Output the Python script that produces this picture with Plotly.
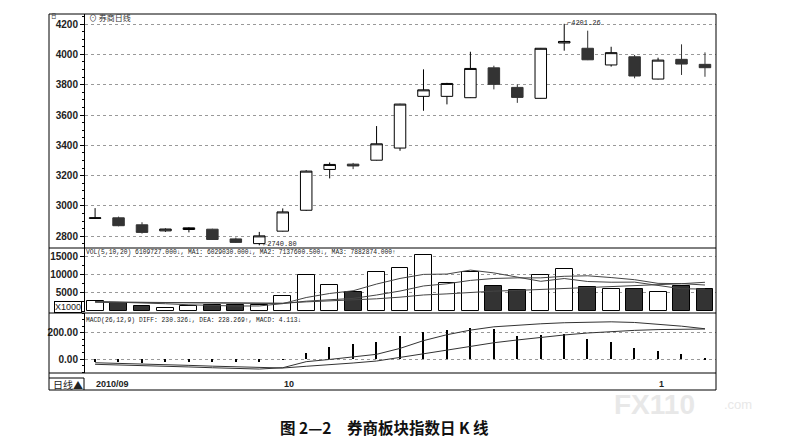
import plotly.graph_objects as go

W, H = 789, 448

# daily candles of the broker sector index, 2010/09 - 2010/11
opens  = [2918, 2922, 2876, 2836, 2845, 2847, 2783, 2752, 2834, 2972, 3241, 3276, 3302, 3382,
          3723, 3723, 3714, 3911, 3782, 3710, 4075, 4040, 3930, 3984, 3837, 3967, 3934]
highs  = [2986, 2930, 2893, 2852, 2860, 2850, 2792, 2829, 2984, 3236, 3287, 3284, 3527, 3674,
          3901, 3812, 4017, 3925, 3802, 4042, 4201.26, 4156, 4050, 3996, 3978, 4066, 4013]
lows   = [2915, 2866, 2818, 2830, 2826, 2776, 2756, 2740.8, 2832, 2968, 3182, 3243, 3300, 3364,
          3628, 3670, 3712, 3769, 3680, 3708, 4024, 3962, 3919, 3842, 3835, 3864, 3852]
closes = [2922, 2870, 2826, 2848, 2856, 2779, 2760, 2803, 2961, 3230, 3274, 3264, 3410, 3672,
          3766, 3808, 3907, 3802, 3716, 4040, 4085, 3964, 4011, 3857, 3962, 3936, 3912]

# volume (x1000) and its moving averages
volume   = [2700, 2100, 1450, 900, 1370, 1550, 1550, 1550, 4100, 9750, 7100, 5300, 10750, 11800,
            15300, 7570, 10740, 6900, 5800, 9750, 11400, 6640, 5930, 5930, 5200, 6830, 6110]
vol_ma5  = [2600, 2450, 2250, 2000, 1704, 1474, 1364, 1384, 2024, 3700, 4810, 5560, 7400, 8940,
            10050, 10144, 11232, 10462, 9262, 8152, 8918, 8098, 7904, 7930, 7020, 6106, 6029]
vol_ma10 = [2500, 2450, 2400, 2300, 2250, 2150, 2100, 2050, 2050, 2702, 3142, 3462, 4392, 5482,
            6875, 7477, 8396, 8931, 9101, 9101, 9531, 9665, 9183, 8596, 7586, 7509, 7138]
vol_ma20 = [2400, 2350, 2300, 2250, 2200, 2150, 2100, 2080, 2150, 2500, 2750, 2950, 3350, 3800,
            4400, 4700, 5150, 5450, 5650, 5902, 6337, 6564, 6788, 7039, 7231, 7495, 7883]

# MACD(26,12,9)
diff = [-40, -44, -50, -55, -60, -66, -72, -76, -66, -20, -3, 18, 36, 81,
        140, 185, 220, 245, 258, 268, 276, 282, 283, 278, 265, 250, 230.3]
dea  = [-28, -32, -38, -43, -48, -54, -60, -66, -68, -55, -45, -30, -15, 10,
        40, 68, 98, 124, 145, 165, 183, 198, 210, 218, 224, 228, 228.3]
macd = [-22, -25, -28, -25, -22, -25, -25, -20, -4, 48, 89, 112, 131, 175,
        208, 220, 233, 225, 175, 182, 190, 150, 127, 81, 61, 38, 4.1]

price_ticks = [2800, 3000, 3200, 3400, 3600, 3800, 4000, 4200]
vol_ticks = [5000, 10000, 15000]
vol_ticktext = ['5000', '10000', '15000']
macd_ticks = [0, 200]
macd_ticktext = ['0.00', '200.00']
date_labels = ['2010/09', '10', '1']
date_pos = [0, 8, 24]

idx = list(range(len(opens)))
vol_colors = ['white' if c >= o else '#333333' for o, c in zip(opens, closes)]


def px(x):
    return x / W


def py(y):
    return 1 - y / H


fig = go.Figure()

fig.add_trace(go.Candlestick(
    x=idx, open=opens, high=highs, low=lows, close=closes,
    increasing=dict(line=dict(color='black', width=1), fillcolor='white'),
    decreasing=dict(line=dict(color='#333333', width=1), fillcolor='#333333'),
    whiskerwidth=0, yaxis='y', showlegend=False))

fig.add_trace(go.Bar(x=idx, y=volume, width=0.72, yaxis='y2',
                     marker=dict(color=vol_colors, line=dict(color='black', width=1)),
                     showlegend=False))
for ma in [vol_ma5, vol_ma10, vol_ma20]:
    fig.add_trace(go.Scatter(x=idx, y=ma, mode='lines', yaxis='y2',
                             line=dict(color='#444444', width=1), showlegend=False))

fig.add_trace(go.Bar(x=idx, y=macd, width=0.06, yaxis='y3',
                     marker=dict(color='black', line=dict(width=0)), showlegend=False))
fig.add_trace(go.Scatter(x=idx, y=diff, mode='lines', yaxis='y3',
                         line=dict(color='#333333', width=1), showlegend=False))
fig.add_trace(go.Scatter(x=idx, y=dea, mode='lines', yaxis='y3',
                         line=dict(color='#333333', width=1), showlegend=False))

tick_font = dict(family='Liberation Sans', size=10, color='#222222', weight='bold')
common_y = dict(showline=True, linecolor='black', linewidth=1, ticks='outside', ticklen=4,
                tickcolor='black', gridcolor='#999999', griddash='dot', gridwidth=1,
                zeroline=False, tickfont=tick_font, anchor='x', fixedrange=True)

fig.update_layout(
    width=W, height=H,
    margin=dict(l=0, r=0, t=0, b=0),
    paper_bgcolor='white', plot_bgcolor='white',
    bargap=0,
    xaxis=dict(domain=[px(85), px(716)], range=[-0.43, 26.47], showgrid=False,
               showticklabels=False, zeroline=False, rangeslider=dict(visible=False),
               anchor='y3', fixedrange=True),
    yaxis=dict(domain=[py(248), py(14)], range=[2723, 4266], tickvals=price_ticks,
               minor=dict(ticks='outside', ticklen=2, dtick=50, tickcolor='black'),
               **common_y),
    yaxis2=dict(domain=[py(312), py(248)], range=[-275, 17300], tickvals=vol_ticks,
                ticktext=vol_ticktext,
                minor=dict(ticks='outside', ticklen=2, dtick=2500, tickcolor='black'),
                **common_y),
    yaxis3=dict(domain=[py(373), py(313)], range=[-106, 350], tickvals=macd_ticks,
                ticktext=macd_ticktext,
                minor=dict(ticks='outside', ticklen=2, dtick=50, tickcolor='black'),
                **common_y),
)

# frame and panel separators
line = dict(color='black', width=1)
shapes = [
    dict(type='rect', xref='paper', yref='paper', x0=px(49), x1=px(716), y0=py(390), y1=py(14), line=line),
    dict(type='line', xref='paper', yref='paper', x0=px(49), x1=px(716), y0=py(248), y1=py(248), line=line),
    dict(type='line', xref='paper', yref='paper', x0=px(49), x1=px(716), y0=py(313), y1=py(313), line=line),
    dict(type='line', xref='paper', yref='paper', x0=px(49), x1=px(716), y0=py(373), y1=py(373), line=line),
    dict(type='line', xref='paper', yref='paper', x0=px(49), x1=px(84), y0=py(378), y1=py(378), line=line),
    dict(type='line', xref='paper', yref='paper', x0=px(84), x1=px(84), y0=py(390), y1=py(378), line=line),
]
fig.update_layout(shapes=shapes)

mono = dict(family='Liberation Mono', size=6.3, color='#222222')
ann = [
    dict(x=px(49.5), y=py(15.5), text='日', font=dict(family='Noto Sans CJK SC', size=5.5, color='#333')),
    dict(x=px(87), y=py(18), text='⊙ 券商日线', font=dict(family='Noto Sans CJK SC', size=8, color='#333')),
    dict(x=px(84), y=py(252),
         text='VOL(5,10,20) 6109727.000↓, MA1: 6029030.000↓, MA2: 7137600.500↓, MA3: 7882874.000↑',
         font=mono),
    dict(x=px(84), y=py(320),
         text='MACD(26,12,9) DIFF: 230.326↓, DEA: 228.269↑, MACD: 4.113↓', font=mono),
    dict(x=px(51), y=py(384), text='日线▲',
         font=dict(family='Noto Sans CJK SC', size=10, color='#222')),
]
for a in ann:
    a.update(xref='paper', yref='paper', xanchor='left', yanchor='middle', showarrow=False)
    fig.add_annotation(**a)

fig.add_annotation(x=px(82), y=py(307), xref='paper', yref='paper', xanchor='right', yanchor='middle',
                   text='X1000', showarrow=False, bordercolor='black', borderwidth=1, borderpad=0,
                   font=dict(family='Liberation Sans', size=9, color='#222'))

# extreme value labels
fig.add_annotation(x=20, y=highs[20], xref='x', yref='y', text='⌐4201.26', showarrow=False,
                   xanchor='left', yanchor='middle', xshift=1, yshift=1,
                   font=dict(family='Liberation Mono', size=7, color='#222'))
fig.add_annotation(x=7, y=lows[7], xref='x', yref='y', text='←2740.80', showarrow=False,
                   xanchor='left', yanchor='middle', xshift=2, yshift=1,
                   font=dict(family='Liberation Mono', size=7, color='#222'))

# date labels under the chart
for pos, lab in zip(date_pos, date_labels):
    fig.add_annotation(x=pos, y=py(384), xref='x', yref='paper', text=lab, showarrow=False,
                       xanchor='left', yanchor='middle', xshift=-1,
                       font=dict(family='Liberation Sans', size=9, color='#222', weight='bold'))

# watermark
fig.add_annotation(x=px(612), y=py(404), xref='paper', yref='paper', text='FX110',
                   showarrow=False, xanchor='left', yanchor='middle',
                   font=dict(family='Liberation Sans', size=28, color='#e8e8e8', weight='bold'))
fig.add_annotation(x=px(722), y=py(404), xref='paper', yref='paper', text='.com',
                   showarrow=False, xanchor='left', yanchor='middle',
                   font=dict(family='Liberation Sans', size=13, color='#e8e8e8'))

# caption
fig.add_annotation(x=px(384), y=py(427), xref='paper', yref='paper',
                   text='图 2—2　券商板块指数日 K 线', showarrow=False,
                   xanchor='center', yanchor='middle',
                   font=dict(family='Noto Sans CJK SC', size=15.5, color='#111', weight='bold'))

fig.write_html("out.html", config={'displayModeBar': False},
               post_script="document.body.style.margin='0';")
